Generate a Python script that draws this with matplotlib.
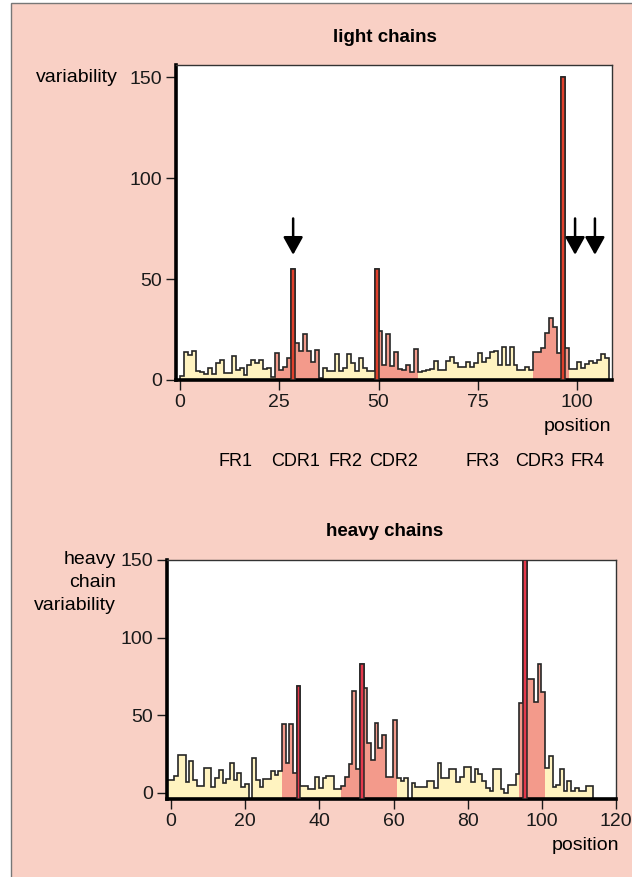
import matplotlib as mpl

mpl.use("Agg")
import matplotlib.pyplot as plt
import numpy as np
from matplotlib.patches import Rectangle

plt.rcParams["font.family"] = ["Liberation Sans", "DejaVu Sans"]

# variability per position
light_var = [
    2.0, 13.7, 12.4, 14.5, 4.6, 3.8, 3.0, 5.8, 3.0, 8.3,
    9.7, 3.6, 3.3, 12.0, 5.0, 6.1, 2.5, 7.2, 9.7, 8.3,
    9.7, 5.3, 5.8, 1.3, 13.5, 5.0, 6.6, 10.7, 55.0, 18.5,
    14.5, 22.8, 14.5, 9.0, 14.9, 1.0, 5.8, 4.6, 4.6, 12.8,
    4.5, 6.0, 12.8, 8.5, 4.3, 10.7, 6.0, 4.6, 4.6, 55.0,
    24.5, 7.4, 22.6, 7.0, 14.0, 5.4, 5.0, 7.4, 4.1, 15.2,
    4.1, 4.5, 5.0, 5.5, 9.6, 5.0, 5.0, 9.6, 11.5, 8.3,
    6.6, 6.6, 9.1, 6.6, 8.6, 13.5, 9.1, 10.7, 14.0, 14.5,
    7.4, 16.5, 7.4, 16.2, 7.4, 5.0, 5.0, 6.6, 5.0, 14.0,
    14.0, 15.7, 23.1, 30.5, 26.4, 13.5, 150.0, 15.7, 5.4, 5.4,
    9.1, 5.8, 7.9, 9.6, 8.3, 9.9, 12.9, 10.7,
]
light_hyper = [28, 49, 96]
light_cdr = [(24, 35), (49, 59), (89, 97)]
light_arrows = [28.5, 99.5, 104.5]
region_names = ["FR1", "CDR1", "FR2", "CDR2", "FR3", "CDR3", "FR4"]
region_x = [14.1, 29.0, 41.6, 53.7, 76.3, 90.6, 102.7]

heavy_var = [
    8.4, 8.4, 10.9, 24.5, 24.5, 7.0, 20.6, 8.4, 4.5, 4.5,
    16.3, 16.3, 3.6, 9.4, 14.8, 6.2, 9.0, 19.1, 8.4, 12.7,
    3.6, 5.8, -3.9, 22.7, 8.4, 3.6, 9.0, 9.0, 14.2, 11.6,
    14.2, 44.2, 19.6, 44.2, 13.0, 69.0, 4.7, 4.7, 2.4, 2.4,
    10.5, 3.2, 9.4, 11.0, 10.9, 2.5, 2.5, 4.5, 10.5, 18.5,
    65.7, 15.2, 83.0, 67.8, 32.0, 21.2, 45.3, 28.8, 37.3, 10.5,
    10.5, 47.0, 9.4, 7.9, 9.4, -3.9, 6.7, 4.1, 4.1, 4.1,
    7.9, 7.9, 3.0, 19.5, 9.4, 9.4, 15.2, 15.2, 7.3, 10.5,
    17.0, 17.0, 7.3, 15.2, 12.0, 7.9, 3.0, 1.5, 15.2, 15.2,
    2.4, 0.0, 5.2, 5.2, 12.2, 58.2, 150.0, 73.2, 73.2, 58.8,
    82.8, 65.2, 16.3, 23.8, 4.1, 5.2, 15.2, 1.5, 7.9, 1.5,
    3.0, 1.5, 1.5, 4.5, 4.5,
]
heavy_hyper = [35, 52, 96]
heavy_cdr = [(31, 35), (47, 61), (95, 101)]

BG = "#f9d0c5"
YELLOW = "#fff3c0"
PINK = "#f39a8b"
LINE = "#262626"
FS = 14


def draw_profile(ax, vals, edges, cdrs, hyper, base, red):
    vals = np.asarray(vals, dtype=float)
    ax.stairs(vals, edges, baseline=base, fill=True, color=YELLOW, lw=0)
    for a, b in cdrs:
        ax.stairs(vals[a:b + 1], edges[a:b + 2], baseline=base, fill=True,
                  color=PINK, lw=0)
    ax.stairs(vals, edges, baseline=base, color=LINE, lw=1.2)
    for i in hyper:
        ax.bar(edges[i], vals[i] - base, width=1, bottom=base, align="edge",
               color=red, edgecolor=LINE, lw=1.1, zorder=3)


def style_axes(ax):
    ax.set_facecolor("white")
    for side in ("left", "bottom"):
        ax.spines[side].set_linewidth(2.6)
        ax.spines[side].set_color("black")
    for side in ("top", "right"):
        ax.spines[side].set_linewidth(1.0)
        ax.spines[side].set_color("#333333")
    ax.tick_params(direction="out", length=7, width=1, labelsize=FS,
                   colors="#1a1a1a", pad=3)


fig = plt.figure(figsize=(6.32, 8.77), dpi=100, facecolor="white")
fig.patches.append(Rectangle((11 / 632, -0.01), 1.0, 1.01 - 3 / 877,
                             transform=fig.transFigure, facecolor=BG,
                             edgecolor="#777777", lw=1.0, zorder=-5))

# light chains
ax1 = fig.add_axes([176 / 632, 1 - 380 / 877, 436 / 632, 315 / 877])
edges1 = np.arange(len(light_var) + 1, dtype=float)
draw_profile(ax1, light_var, edges1, light_cdr, light_hyper, 0.0, "#e0402c")
style_axes(ax1)
ax1.set_xlim(-1.0, 108.8)
ax1.set_ylim(0, 156)
ax1.set_xticks([0, 25, 50, 75, 100])
ax1.set_yticks([0, 50, 100, 150])
for x in light_arrows:
    ax1.annotate("", xy=(x, 62), xytext=(x, 80),
                 arrowprops=dict(arrowstyle="-|>,head_length=0.9,head_width=0.5",
                                 color="black", lw=1.8, shrinkA=0, shrinkB=0,
                                 mutation_scale=12))
ax1.text(-0.133, 150, "variability", transform=ax1.get_yaxis_transform(),
         ha="right", va="center", fontsize=FS)
ax1.text(100, -0.149, "position", transform=ax1.get_xaxis_transform(),
         ha="center", va="center", fontsize=FS)
for name, x in zip(region_names, region_x):
    ax1.text(x, -0.26, name, transform=ax1.get_xaxis_transform(),
             ha="center", va="center", fontsize=13)
fig.text(385 / 632, 1 - 37 / 877, "light chains", ha="center", va="center",
         fontsize=13.5, fontweight="bold")

# heavy chains
ax2 = fig.add_axes([167 / 632, 1 - 799 / 877, 449 / 632, 239 / 877])
edges2 = np.arange(len(heavy_var) + 1, dtype=float) - 1.1
draw_profile(ax2, heavy_var, edges2, heavy_cdr, heavy_hyper, -3.9, "#e5394c")
style_axes(ax2)
ax2.set_xlim(-1.1, 120)
ax2.set_ylim(-3.9, 150)
ax2.set_xticks([0, 20, 40, 60, 80, 100, 120])
ax2.set_yticks([0, 50, 100, 150])
fig.text(116 / 632, 1 - 551 / 877, "heavy\nchain\nvariability", ha="right",
         va="top", multialignment="right", linespacing=1.45, fontsize=FS)
fig.text(585 / 632, 1 - 845 / 877, "position", ha="center", va="center",
         fontsize=FS)
fig.text(385 / 632, 1 - 532 / 877, "heavy chains", ha="center", va="center",
         fontsize=13.5, fontweight="bold")

fig.savefig("out.png", dpi=100, facecolor=fig.get_facecolor())
